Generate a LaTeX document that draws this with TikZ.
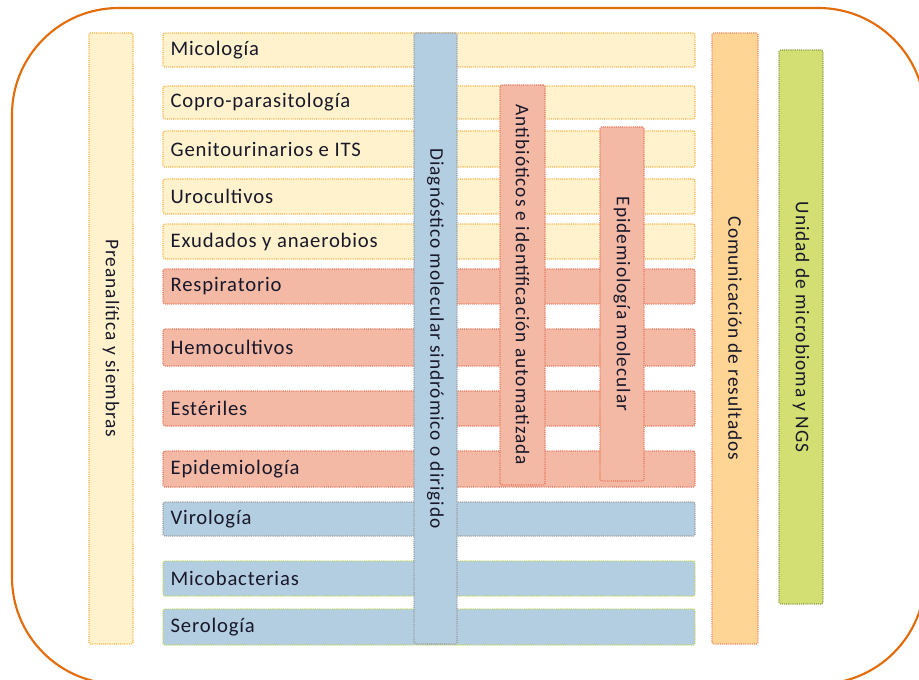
\documentclass[tikz,border=0pt]{standalone}
\usepackage{fontspec}
\setmainfont{Carlito}
\newfontfamily\rowfont[LetterSpace=4]{Carlito}
\newfontfamily\vertfont[LetterSpace=5]{Carlito}
\usetikzlibrary{fit}
\definecolor{yfill}{HTML}{FFF2CC}
\definecolor{yline}{HTML}{F7B143}
\definecolor{sfill}{HTML}{F3B9A5}
\definecolor{sline}{HTML}{E8745A}
\definecolor{bfill}{HTML}{B3CEE0}
\definecolor{bline}{HTML}{9A9A9A}
\definecolor{gline}{HTML}{C3D66A}
\definecolor{cfill}{HTML}{FFD595}
\definecolor{cline}{HTML}{EE8060}
\definecolor{ufill}{HTML}{D3DF72}
\definecolor{uline}{HTML}{8C9A4A}
\definecolor{outer}{HTML}{E26B0A}
\definecolor{txt}{HTML}{18182A}
\begin{document}
\begin{tikzpicture}[x=0.75pt,y=-0.75pt,
  box/.style={inner sep=0pt, rounded corners=1.2pt, line width=0.9pt, dash pattern=on 0.8pt off 0.8pt},
  yrow/.style={box, fill=yfill, draw=yline},
  srow/.style={box, fill=sfill, draw=sline},
  brow/.style={box, fill=bfill, draw=bline},
  bgrow/.style={box, fill=bfill, draw=gline},
  rowtext/.style={anchor=west, inner sep=0pt, font=\rowfont\fontsize{15.5pt}{17pt}\selectfont, text=txt},
  vtext/.style={rotate=-90, inner sep=0pt, font=\vertfont\fontsize{14.5pt}{16pt}\selectfont, text=txt}]
\useasboundingbox (0,0) rectangle (919,680);
% outer frame
\draw[outer, line width=1.6pt, rounded corners=80pt] (12,8) rectangle (925,684);
% left column
\node[yrow, fit={(89,33) (133,644)}] (pre) {};
\node[vtext] (pret) at (pre.center) {Preanalítica y siembras};
% rows
\node[yrow, fit={(163,33) (695,67)}] (r1) {};
\node[yrow, fit={(163,86) (695,119)}] (r2) {};
\node[yrow, fit={(163,131) (695,167)}] (r3) {};
\node[yrow, fit={(163,179) (695,214)}] (r4) {};
\node[yrow, fit={(163,224) (695,259)}] (r5) {};
\node[srow, fit={(163,269) (695,304)}] (r6) {};
\node[srow, fit={(163,329) (695,366)}] (r7) {};
\node[srow, fit={(163,391) (695,426)}] (r8) {};
\node[srow, fit={(163,451) (695,487)}] (r9) {};
\node[brow, fit={(163,502) (695,536)}] (r10) {};
\node[bgrow, fit={(163,561) (695,596)}] (r11) {};
\node[bgrow, fit={(163,609) (695,645)}] (r12) {};
\foreach \n/\t in {r1/Micología, r2/Copro-parasitología, r3/Genitourinarios e ITS, r4/Urocultivos, r5/Exudados y anaerobios, r6/Respiratorio, r7/Hemocultivos, r8/Estériles, r9/Epidemiología, r10/Virología, r11/Micobacterias, r12/Serología}
  \node[rowtext] (\n t) at ([xshift=6pt]\n.west) {\t};
% vertical bars
\node[brow, fit={(414,33) (457,644)}] (diag) {};
\node[vtext] (diagt) at (diag.center) {Diagnóstico molecular sindrómico o dirigido};
\node[srow, fit={(500,85) (545,485)}] (anti) {};
\node[vtext] (antit) at (anti.center) {Antibióticos e identificación automatizada};
\node[srow, fit={(600,127) (644,481)}] (epim) {};
\node[vtext] (epimt) at (epim.center) {Epidemiología molecular};
\node[box, fill=cfill, draw=cline, fit={(712,33) (758,644)}] (com) {};
\node[vtext] (comt) at (com.center) {Comunicación de resultados};
\node[box, fill=ufill, draw=uline, fit={(779,50) (823,604)}] (uni) {};
\node[vtext] (unit) at (uni.center) {Unidad de microbioma y NGS};
\end{tikzpicture}
\end{document}
